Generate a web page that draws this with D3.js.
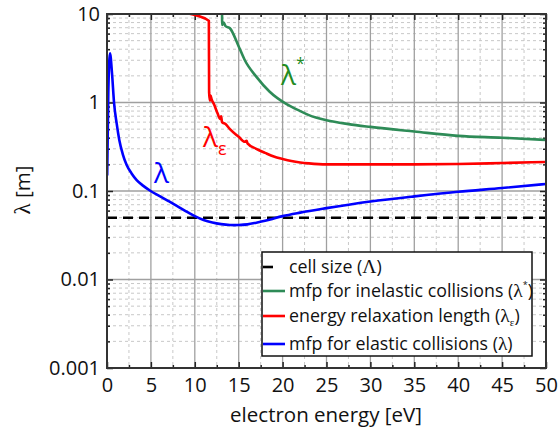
<!DOCTYPE html>
<html><head><meta charset="utf-8">
<script src="https://cdnjs.cloudflare.com/ajax/libs/d3/7.8.5/d3.min.js"></script>
<style>body{margin:0;background:#fff}svg{display:block}text{font-family:"Open Sans",Lato,sans-serif}</style>
</head><body><svg id="c" width="558" height="434"></svg>
<script>
// ---- data ----
const elasticX = [0.02, 0.15, 0.34, 0.57, 0.8, 1.1, 1.4, 1.8, 2.24, 2.8, 3.38, 4.1, 4.97, 6, 7, 8, 9, 10, 11, 12, 13, 14, 14.5, 15, 16, 17, 18, 19, 20, 22, 25, 30, 35, 40, 45, 50];
const elasticY = [0.15, 1.3, 3.6, 2.14, 1.0, 0.58, 0.377, 0.26, 0.197, 0.158, 0.133, 0.115, 0.1, 0.0877, 0.077, 0.0675, 0.059, 0.052, 0.047, 0.0440, 0.0422, 0.0413, 0.0412, 0.0413, 0.042, 0.0438, 0.046, 0.049, 0.052, 0.057, 0.064, 0.076, 0.087, 0.098, 0.108, 0.12];
const relaxX = [9.0, 11.6, 11.63, 11.72, 11.8, 11.9, 12.2, 12.6, 12.9, 13.0, 13.1, 13.5, 14, 15, 15.7, 15.9, 16, 17, 18, 19, 20, 21, 22, 23, 25, 30, 35, 40, 45, 50];
const relaxY = [10.3, 8.4, 1.3, 1.05, 1.2, 1.1, 0.95, 0.75, 0.65, 0.7, 0.6, 0.57, 0.5, 0.41, 0.36, 0.37, 0.345, 0.3, 0.27, 0.245, 0.23, 0.218, 0.21, 0.205, 0.2, 0.2, 0.2, 0.202, 0.207, 0.213];
const inelX = [13.1, 13.12, 13.3, 13.5, 14, 15, 15.7, 17, 18.5, 20.5, 22, 23, 25, 27.5, 30, 35, 40, 45, 50];
const inelY = [11, 7.5, 8.0, 7.3, 6.9, 4.3, 3.0, 1.96, 1.33, 0.95, 0.8, 0.72, 0.63, 0.57, 0.53, 0.47, 0.42, 0.4, 0.377];
const cellSize = 0.05;
const xTicks = [0, 5, 10, 15, 20, 25, 30, 35, 40, 45, 50];
const xTickLabels = ["0", "5", "10", "15", "20", "25", "30", "35", "40", "45", "50"];
const yTicks = [0.001, 0.01, 0.1, 1, 10];
const yTickLabels = ["0.001", "0.01", "0.1", "1", "10"];

// ---- setup ----
const svg = d3.select("#c");
const L = 107, R = 546, T = 14, B = 368;
const x = d3.scaleLinear().domain([0, 50]).range([L, R]);
const y = d3.scaleLog().domain([0.001, 10]).range([B, T]);

const xMinor = d3.range(2.5, 50, 5);
const yMinor = [];
[0.001, 0.01, 0.1, 1].forEach(d => { for (let k = 2; k <= 9; k++) yMinor.push(d * k); });

// grid
const g = svg.append("g");
g.selectAll(".xm").data(xMinor).join("line")
  .attr("x1", d => x(d)).attr("x2", d => x(d)).attr("y1", T).attr("y2", B)
  .attr("stroke", "#c8c8c8").attr("stroke-dasharray", "3,3").attr("stroke-width", 1);
g.selectAll(".ym").data(yMinor).join("line")
  .attr("y1", d => y(d)).attr("y2", d => y(d)).attr("x1", L).attr("x2", R)
  .attr("stroke", "#c8c8c8").attr("stroke-dasharray", "3,3").attr("stroke-width", 1);
g.selectAll(".xM").data(xTicks.slice(1, -1)).join("line")
  .attr("x1", d => x(d)).attr("x2", d => x(d)).attr("y1", T).attr("y2", B)
  .attr("stroke", "#a0a0a0").attr("stroke-width", 1.3);
g.selectAll(".yM").data(yTicks.slice(1, -1)).join("line")
  .attr("y1", d => y(d)).attr("y2", d => y(d)).attr("x1", L).attr("x2", R)
  .attr("stroke", "#a0a0a0").attr("stroke-width", 1.3);

// axes ticks (inward)
function styleAxis(sel) {
  sel.select(".domain").remove();
  sel.selectAll("line").attr("stroke", "#222").attr("stroke-width", 1.5);
}
const fmtX = d => xTickLabels[xTicks.indexOf(d)];
const fmtY = d => yTickLabels[yTicks.indexOf(d)];
svg.append("g").attr("transform", `translate(0,${B})`)
  .call(d3.axisBottom(x).tickValues(xMinor).tickSize(-3).tickFormat(""))
  .call(styleAxis);
svg.append("g").attr("transform", `translate(0,${B})`)
  .call(d3.axisBottom(x).tickValues(xTicks).tickSize(-6).tickPadding(10).tickFormat(fmtX))
  .call(styleAxis)
  .selectAll("text").attr("font-size", 20).attr("fill", "#111").attr("font-family", "Open Sans");
svg.append("g").attr("transform", `translate(0,${T})`)
  .call(d3.axisTop(x).tickValues(xMinor).tickSize(-3).tickFormat("")).call(styleAxis);
svg.append("g").attr("transform", `translate(0,${T})`)
  .call(d3.axisTop(x).tickValues(xTicks).tickSize(-6).tickFormat("")).call(styleAxis);
svg.append("g").attr("transform", `translate(${L},0)`)
  .call(d3.axisLeft(y).tickValues(yMinor).tickSize(-3).tickFormat("")).call(styleAxis);
svg.append("g").attr("transform", `translate(${L},0)`)
  .call(d3.axisLeft(y).tickValues(yTicks).tickSize(-6).tickPadding(7).tickFormat(fmtY))
  .call(styleAxis)
  .selectAll("text").attr("font-size", 20).attr("fill", "#111").attr("font-family", "Open Sans");
svg.append("g").attr("transform", `translate(${R},0)`)
  .call(d3.axisRight(y).tickValues(yMinor).tickSize(-3).tickFormat("")).call(styleAxis);
svg.append("g").attr("transform", `translate(${R},0)`)
  .call(d3.axisRight(y).tickValues(yTicks).tickSize(-6).tickFormat("")).call(styleAxis);

// clip
svg.append("clipPath").attr("id", "clip").append("rect")
  .attr("x", L).attr("y", T).attr("width", R - L).attr("height", B - T);
const plot = svg.append("g").attr("clip-path", "url(#clip)");

// cell size
plot.append("line").attr("x1", L).attr("x2", R).attr("y1", y(cellSize)).attr("y2", y(cellSize))
  .attr("stroke", "#000").attr("stroke-width", 2.5).attr("stroke-dasharray", "10,6");

const line = d3.line().x(d => x(d[0])).y(d => y(d[1])).curve(d3.curveMonotoneX);
function drawSeries(xs, ys, color) {
  plot.append("path").datum(xs.map((v, i) => [v, ys[i]]))
    .attr("d", line).attr("fill", "none").attr("stroke", color).attr("stroke-width", 2.6)
    .attr("stroke-linejoin", "round");
}
drawSeries(inelX, inelY, "#2e8b57");
drawSeries(relaxX, relaxY, "#ff0000");
drawSeries(elasticX, elasticY, "#0000ff");

// frame
svg.append("rect").attr("x", L).attr("y", T).attr("width", R - L).attr("height", B - T)
  .attr("fill", "none").attr("stroke", "#333").attr("stroke-width", 2);

// curve labels
const serif = "'Liberation Serif','DejaVu Serif',serif";
svg.append("text").attr("x", 154).attr("y", 183).attr("font-family", serif).attr("font-size", 28)
  .attr("fill", "#0000ff").text("λ");
const le = svg.append("text").attr("x", 203).attr("y", 147).attr("font-family", serif).attr("font-size", 28)
  .attr("fill", "#ff0000");
le.append("tspan").text("λ");
le.append("tspan").attr("font-size", 18).attr("dy", 8).text("ε");
const ls = svg.append("text").attr("x", 281).attr("y", 85).attr("font-family", serif).attr("font-size", 28)
  .attr("fill", "#228b22");
ls.append("tspan").text("λ");
ls.append("tspan").attr("font-size", 16).attr("dy", -16).text("*");

// axis titles
svg.append("text").attr("x", 326).attr("y", 422).attr("text-anchor", "middle")
  .attr("font-size", 20.5).attr("fill", "#111").text("electron energy [eV]");
const yt = svg.append("text").attr("transform", "translate(30,190) rotate(-90)")
  .attr("text-anchor", "middle").attr("font-size", 20.5).attr("fill", "#111");
yt.append("tspan").attr("font-family", serif).attr("font-size", 23).text("λ");
yt.append("tspan").text(" [m]");

// legend
const lg = svg.append("g");
lg.append("rect").attr("x", 262).attr("y", 252).attr("width", 270).attr("height", 104)
  .attr("fill", "#fff").attr("stroke", "#111").attr("stroke-width", 1.5);
const entries = [
  { c: "#000", parts: [["cell size (", 0], ["Λ", 1], [")", 0]], y: 267, dash: true },
  { c: "#2e8b57", parts: [["mfp for inelastic collisions (", 0], ["λ", 1], ["*", 2], [")", 4]], y: 291 },
  { c: "#ff0000", parts: [["energy relaxation length (", 0], ["λ", 1], ["ε", 3], [")", 5]], y: 316 },
  { c: "#0000ff", parts: [["mfp for elastic collisions (", 0], ["λ", 1], [")", 0]], y: 344 }
];
entries.forEach(e => {
  lg.append("line").attr("x1", 263).attr("x2", e.dash ? 273 : 285).attr("y1", e.y).attr("y2", e.y)
    .attr("stroke", e.c).attr("stroke-width", 2.6);
  const t = lg.append("text").attr("x", 289).attr("y", e.y + 6).attr("font-size", 17.8).attr("fill", "#111");
  e.parts.forEach(p => {
    const s = t.append("tspan").text(p[0]);
    if (p[1] === 1) s.attr("font-family", serif).attr("font-size", 19.5);
    if (p[1] === 2) s.attr("font-size", 9).attr("dy", -9);
    if (p[1] === 3) s.attr("font-family", serif).attr("font-size", 11).attr("dy", 4);
    if (p[1] === 4) s.attr("dy", 9);
    if (p[1] === 5) s.attr("dy", -4);
  });
});
</script></body></html>
